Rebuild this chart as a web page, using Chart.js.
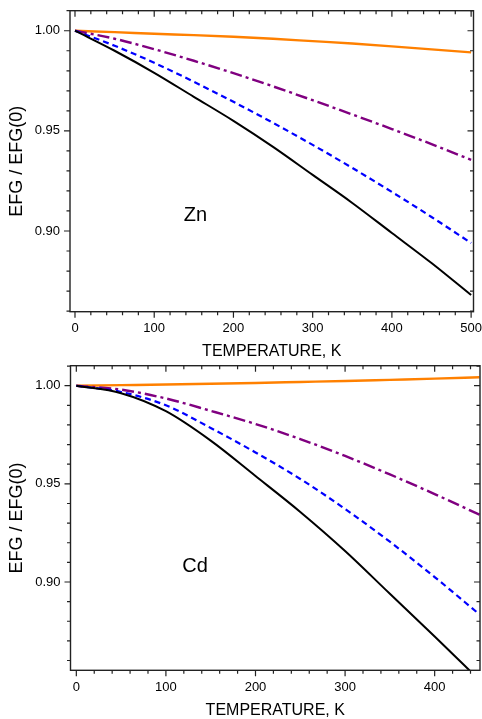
<!doctype html>
<html lang="en">
<head>
<meta charset="utf-8">
<title>EFG temperature dependence - Zn, Cd</title>
<script src="https://cdn.jsdelivr.net/npm/chart.js@4.4.0/dist/chart.umd.min.js"></script>
<style>
  body { margin: 0; background: #fff; }
  .panel { position: absolute; left: 0; }
</style>
</head>
<body>
<canvas id="zn" class="panel" width="482" height="360" style="top:0"></canvas>
<canvas id="cd" class="panel" width="482" height="359" style="top:360px"></canvas>
<script>
// temperatures, K
const tempZn = [0, 50, 100, 150, 200, 250, 300, 350, 400, 450, 500];
const tempCd = [0, 50, 100, 150, 200, 250, 300, 350, 400, 450];

// EFG / EFG(0), Zn
const znBlack  = [1.000, 0.990, 0.979, 0.967, 0.955, 0.942, 0.928, 0.914, 0.899, 0.884, 0.868];
const znBlue   = [1.000, 0.9925, 0.984, 0.9745, 0.9645, 0.954, 0.943, 0.9315, 0.9195, 0.907, 0.894];
const znPurple = [1.000, 0.996, 0.9908, 0.985, 0.9788, 0.9722, 0.9653, 0.9582, 0.9509, 0.9434, 0.9355];
const znOrange = [1.000, 0.9993, 0.9985, 0.9978, 0.997, 0.996, 0.9948, 0.9936, 0.9922, 0.9907, 0.9892];

// EFG / EFG(0), Cd
const cdBlack  = [1.000, 0.9962, 0.987, 0.972, 0.954, 0.9357, 0.9158, 0.894, 0.8722, 0.850];
const cdBlue   = [1.000, 0.9968, 0.990, 0.9785, 0.966, 0.9525, 0.9372, 0.9205, 0.9025, 0.8835];
const cdPurple = [1.000, 0.998, 0.9935, 0.9872, 0.9805, 0.9728, 0.9642, 0.9548, 0.9448, 0.9343];
const cdOrange = [1.000, 1.0003, 1.0006, 1.001, 1.0014, 1.0019, 1.0024, 1.003, 1.0036, 1.0043];

// tick labels
const xTicksZn = [0, 100, 200, 300, 400, 500];
const xTicksCd = [0, 100, 200, 300, 400];
const yTicks = [0.90, 0.95, 1.00];

const FONT = "'Liberation Sans', Arial, sans-serif";

function pts(xs, ys) {
  return xs.map((x, i) => ({ x: x, y: ys[i] }));
}

// frame + Origin-style ticks (major + minor), and the element label
const framePlugin = {
  id: 'frame',
  afterDraw(chart, args, opts) {
    const ctx = chart.ctx, a = chart.chartArea;
    const xs = chart.scales.x, ys = chart.scales.y;
    ctx.save();
    ctx.strokeStyle = '#222';
    ctx.lineWidth = 1.4;
    ctx.strokeRect(a.left, a.top, a.right - a.left, a.bottom - a.top);

    ctx.lineWidth = 1.2;
    ctx.beginPath();
    // x ticks, minor every 20
    for (let v = 0; v <= xs.max; v += 20) {
      const px = xs.getPixelForValue(v);
      const len = v % 100 === 0 ? 6 : 3.5;
      ctx.moveTo(px, a.bottom); ctx.lineTo(px, a.bottom + len);
      ctx.moveTo(px, a.top); ctx.lineTo(px, a.top + len);
    }
    // y ticks, minor every 0.01
    for (let k = Math.ceil(ys.min * 100 - 1e-6); k <= Math.floor(ys.max * 100 + 1e-6); k++) {
      const py = ys.getPixelForValue(k / 100);
      const len = k % 5 === 0 ? 6 : 3.5;
      ctx.moveTo(a.left, py); ctx.lineTo(a.left - len, py);
      ctx.moveTo(a.right, py); ctx.lineTo(a.right - len, py);
    }
    ctx.stroke();

    ctx.fillStyle = '#000';
    ctx.font = '20px ' + FONT;
    ctx.textAlign = 'center';
    ctx.textBaseline = 'alphabetic';
    ctx.fillText(opts.text, xs.getPixelForValue(opts.x), ys.getPixelForValue(opts.y) + 7);
    ctx.restore();
  }
};

function makeChart(id, xs, series, xTicks, xr, yr, pad, xh, yw, label) {
  const styles = [
    { color: '#000000', dash: [], width: 2 },
    { color: '#0000FF', dash: [6, 4], width: 2.2 },
    { color: '#800080', dash: [12, 4, 3, 4], width: 2.4 },
    { color: '#FF8000', dash: [], width: 2.4 }
  ];
  return new Chart(document.getElementById(id), {
    type: 'line',
    data: {
      datasets: series.map((s, i) => ({
        data: pts(xs, s),
        borderColor: styles[i].color,
        borderDash: styles[i].dash,
        borderWidth: styles[i].width,
        pointRadius: 0,
        fill: false,
        cubicInterpolationMode: 'monotone'
      }))
    },
    options: {
      responsive: false,
      animation: false,
      devicePixelRatio: 1,
      layout: { padding: pad },
      plugins: {
        legend: { display: false },
        tooltip: { enabled: false },
        frame: label
      },
      scales: {
        x: {
          type: 'linear',
          min: xr[0], max: xr[1],
          afterBuildTicks: s => { s.ticks = xTicks.map(v => ({ value: v })); },
          afterFit: s => { s.height = xh; s.paddingLeft = 0; s.paddingRight = 0; },
          grid: { display: false, drawTicks: false },
          border: { display: false },
          ticks: { color: '#000', font: { family: FONT, size: 13 }, padding: 9, maxRotation: 0 },
          title: { display: true, text: 'TEMPERATURE, K', color: '#000',
                   font: { family: FONT, size: 16 }, padding: { top: 0, bottom: -1.5 } }
        },
        y: {
          min: yr[0], max: yr[1],
          afterBuildTicks: s => { s.ticks = yTicks.map(v => ({ value: v })); },
          afterFit: s => { s.width = yw; s.paddingTop = 0; s.paddingBottom = 0; },
          grid: { display: false, drawTicks: false },
          border: { display: false },
          ticks: { color: '#000', font: { family: FONT, size: 13 }, padding: 10,
                   callback: v => v.toFixed(2) },
          title: { display: true, text: 'EFG / EFG(0)', color: '#000',
                   font: { family: FONT, size: 18 }, padding: { top: 6, bottom: 6 } }
        }
      }
    },
    plugins: [framePlugin]
  });
}

makeChart('zn', tempZn, [znBlack, znBlue, znPurple, znOrange], xTicksZn,
  [-6.3, 503], [0.8597, 1.010],
  { top: 10.7, right: 8.5, left: 0, bottom: 0 }, 48.3, 70,
  { text: 'Zn', x: 152, y: 0.9085 });

makeChart('cd', tempCd, [cdBlack, cdBlue, cdPurple, cdOrange], xTicksCd,
  [-6.5, 450.6], [0.855, 1.0102],
  { top: 5.7, right: 2, left: 0, bottom: 0 }, 48.7, 70.5,
  { text: 'Cd', x: 132.6, y: 0.9086 });
</script>
</body>
</html>
